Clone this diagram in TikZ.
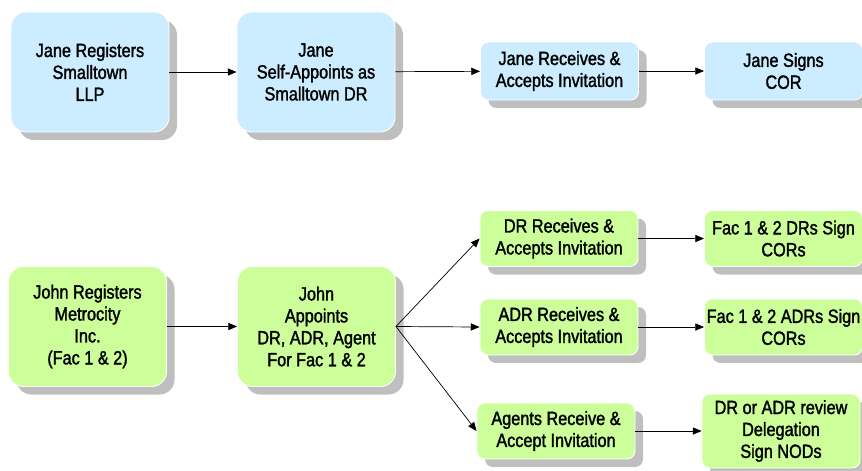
\documentclass[tikz,border=0pt]{standalone}
\usepackage{fontspec}
\setmainfont{Liberation Sans}
\newfontfamily\boxfont[FakeStretch=0.85, FakeBold=1.6]{Liberation Sans}
\usepackage{tikz}
\usetikzlibrary{shadows}
\usetikzlibrary{arrows.meta}
\usepackage{xcolor}
\definecolor{boxblue}{RGB}{204,236,255}
\definecolor{boxgreen}{RGB}{204,255,153}

\begin{document}
\begin{tikzpicture}[x=0.025cm, y=-0.025cm,
  step box/.style={draw=white, line width=0.6pt, align=center, inner sep=0pt,
    font=\boxfont\fontsize{13.6}{15.6}\selectfont,
    drop shadow={shadow xshift=0.2cm, shadow yshift=-0.2cm, fill=gray!50, opacity=1}},
  big box/.style={step box, rounded corners=0.375cm, minimum width=3.95cm, minimum height=3cm},
  small box/.style={step box, rounded corners=0.2cm, minimum width=3.95cm, minimum height=1.4cm},
  flow/.style={-{Triangle[length=2.2mm, width=1.8mm]}, black, line width=0.5pt}]

\useasboundingbox (0,0) rectangle (862,470);

% Jane
{
\node[big box, fill=boxblue] (janereg) at (90,72) {Jane Registers\\Smalltown\\LLP};
\node[big box, fill=boxblue] (janeself) at (316,72) {Jane\\Self-Appoints as\\Smalltown DR};
\node[small box, fill=boxblue, minimum height=1.45cm] (janeacc) at (559.5,71) {Jane Receives \&\\Accepts Invitation};
\node[small box, fill=boxblue, minimum height=1.45cm] (janesign) at (783.5,71) {Jane Signs\\COR};

\draw[flow] (janereg) -- (janeself);
\draw[flow] (janeself) -- (janeacc);
\draw[flow] (janeacc) -- (janesign);
}

% John
{
\node[big box, fill=boxgreen] (johnreg) at (87.5,326.5) {John Registers\\Metrocity\\Inc.\\(Fac 1 \& 2)};
\node[big box, fill=boxgreen] (johnapp) at (316.5,326.5) {John\\Appoints\\DR, ADR, Agent\\For Fac 1 \& 2};

\node[small box, fill=boxgreen] (drrec) at (559,238.5) {DR Receives \&\\Accepts Invitation};
\node[small box, fill=boxgreen] (drsign) at (783.5,238.5) {Fac 1 \& 2 DRs Sign\\CORs};

\node[small box, fill=boxgreen] (adrrec) at (559,327) {ADR Receives \&\\Accepts Invitation};
\node[small box, fill=boxgreen] (adrsign) at (783.5,327) {Fac 1 \& 2 ADRs Sign\\CORs};

\node[small box, fill=boxgreen] (agentrec) at (556,431) {Agents Receive \&\\Accept Invitation};
\node[small box, fill=boxgreen, minimum height=1.85cm] (review) at (781,431) {DR or ADR review\\Delegation\\Sign NODs};

\draw[flow] (johnreg) -- (johnapp);
\draw[flow] (johnapp.east) -- (drrec.west);
\draw[flow] (johnapp.east) -- (adrrec.west);
\draw[flow] (johnapp.east) -- (agentrec.west);

\draw[flow] (drrec) -- (drsign);
\draw[flow] (adrrec) -- (adrsign);
\draw[flow] (agentrec) -- (review);
}

\end{tikzpicture}
\end{document}
